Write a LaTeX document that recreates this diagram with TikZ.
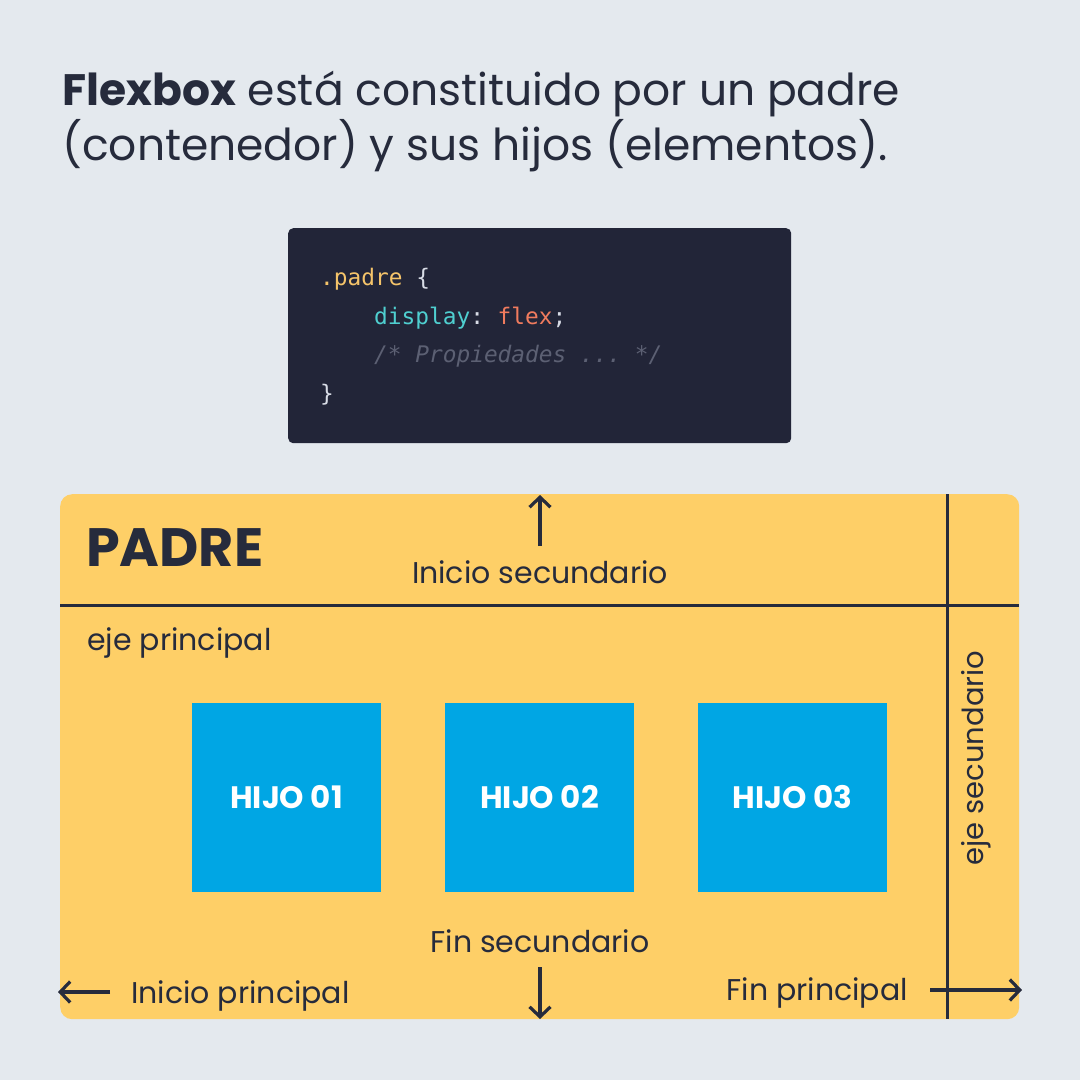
\documentclass[tikz,border=0pt]{standalone}
\usepackage{fontspec}
\setmainfont{Poppins}
\setmonofont{DejaVu Sans Mono}
\usetikzlibrary{arrows.meta}
\definecolor{bgc}{HTML}{E4E9EE}
\definecolor{ink}{HTML}{262B3C}
\definecolor{padreyellow}{HTML}{FECF67}
\definecolor{hijoblue}{HTML}{00A6E4}
\definecolor{codebg}{HTML}{222538}
\definecolor{codeyellow}{HTML}{F5C46A}
\definecolor{codecyan}{HTML}{4FCFD0}
\definecolor{codeorange}{HTML}{F07B5E}
\definecolor{codegray}{HTML}{5C6073}
\definecolor{codewhite}{HTML}{D8DCE6}
\tikzset{
  fs/.style={font=\fontsize{#1}{#1}\selectfont},
  lbl/.style={text=ink, inner sep=0pt, fs=30},
  codeline/.style={anchor=base west, inner sep=0pt, font=\fontsize{22.8}{22.8}\selectfont\ttfamily},
  hijo/.style={fill=hijoblue, minimum width=189pt, minimum height=189pt, inner sep=0pt,
    text=white, font=\fontsize{31}{31}\selectfont\bfseries},
  axis/.style={draw=ink, line width=3pt},
  dirarrow/.style={draw=ink, line width=3.2pt,
    -{Straight Barb[length=10pt,width=21pt,line width=3.2pt]}},
}
\begin{document}
\begin{tikzpicture}[x=1pt,y=-1pt]
  \fill[bgc] (0,0) rectangle (1080,1080);
  \useasboundingbox (0,0) rectangle (1080,1080);

  % heading
  \node[anchor=base west, inner sep=0pt, text=ink, fs=44] (t1) at (62,105)
    {\textbf{Flexbox} está constituido por un padre};
  \node[anchor=base west, inner sep=0pt, text=ink, fs=44] (t2) at (62,160)
    {(contenedor) y sus hijos (elementos).};

  % code panel
  \node[fill=codebg, rounded corners=5pt, minimum width=503pt, minimum height=215pt,
        anchor=north west, inner sep=0pt] (code) at (288,228) {};
  \node[codeline] (c1) at (320,285) {\textcolor{codeyellow}{.padre} \textcolor{codewhite}{\{}};
  \node[codeline] (c2) at (374,324) {\textcolor{codecyan}{display}\textcolor{codewhite}{:} \textcolor{codeorange}{flex}\textcolor{codewhite}{;}};
  \node[codeline, text=codegray] (c3) at (374,362) {\itshape /* Propiedades ... */};
  \node[codeline, text=codewhite] (c4) at (320,401) {\}};

  % parent container
  \node[fill=padreyellow, rounded corners=12pt, minimum width=959pt, minimum height=525pt,
        anchor=north west, inner sep=0pt] (padre) at (60,494) {};
  \coordinate (hl) at (60,605);
  \coordinate (hr) at (1019,605);
  \coordinate (vt) at (947,494);
  \coordinate (vb) at (947,1019);
  \draw[axis] (hl) -- (hr);
  \draw[axis] (vt) -- (vb);

  \node[anchor=base west, inner sep=0pt, text=ink,
        font=\fontsize{54}{54}\selectfont\bfseries] (ptitle) at (86,566) {PADRE};

  % cross-axis start
  \node[lbl, anchor=base] (inisec) at (540,583) {Inicio secundario};
  \coordinate (upend) at (540,495);
  \coordinate (upstart) at (540,546);
  \draw[dirarrow] (upstart) -- (upend);

  \node[lbl, anchor=base west] (ejep) at (87,650) {eje principal};

  % children
  \node[hijo] (h1) at (286.5,797.5) {HIJO 01};
  \node[hijo] (h2) at (539.5,797.5) {HIJO 02};
  \node[hijo] (h3) at (792.5,797.5) {HIJO 03};

  % cross-axis end
  \node[lbl, anchor=base] (finsec) at (540,952) {Fin secundario};
  \coordinate (dnstart) at (540,967);
  \coordinate (dnend) at (540,1019);
  \draw[dirarrow] (dnstart) -- (dnend);

  % main-axis start and end
  \node[lbl, anchor=base west] (inip) at (131,1003) {Inicio principal};
  \coordinate (lstart) at (110,992);
  \coordinate (lend) at (58,992);
  \draw[dirarrow] (lstart) -- (lend);

  \node[lbl, anchor=base east] (finp) at (908,1000) {Fin principal};
  \coordinate (rstart) at (930,990);
  \coordinate (rend) at (1022,990);
  \draw[dirarrow] (rstart) -- (rend);

  % secondary axis label
  \node[lbl, fs=29, rotate=90] (ejes) at (976,758) {eje secundario};
\end{tikzpicture}
\end{document}
